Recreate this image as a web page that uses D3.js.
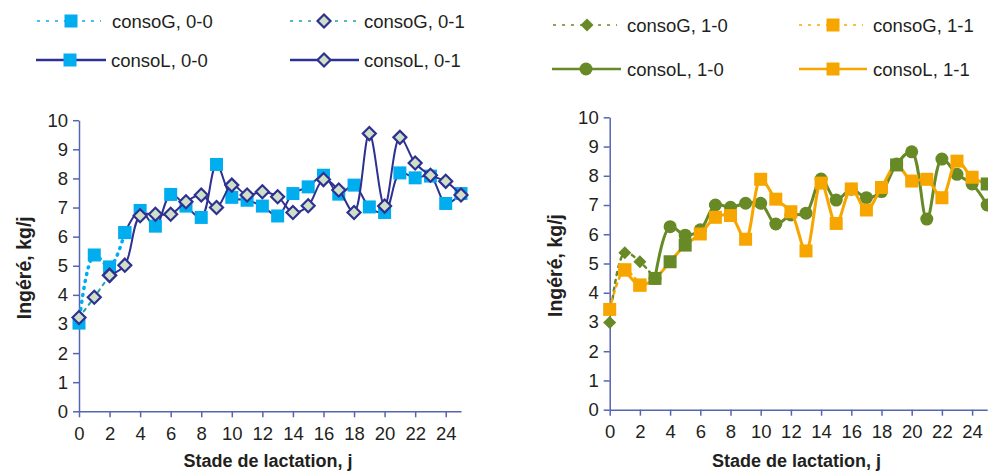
<!DOCTYPE html>
<html>
<head>
<meta charset="utf-8">
<script src="https://cdn.jsdelivr.net/npm/d3@7"></script>
<style>
  body { margin: 0; background: white; }
  text { font-family: "Liberation Sans", Arial, sans-serif; fill: #231f20; }
</style>
</head>
<body>
<script>
// x = day of lactation, y = intake (kg/j)
const xTicks = d3.range(0, 25, 2)
const yTicks = d3.range(0, 11)

// left panel
const consoG00 = [3.03, 5.37, 4.96, 6.14]            // days 0..3
const consoG01 = [3.22, 3.92, 4.67]                  // days 0..2
const consoL00 = [6.14, 6.9, 6.36, 7.45, 7.05, 6.66, 8.48, 7.35, 7.25, 7.05, 6.71, 7.48,
                  7.71, 8.11, 7.46, 7.77, 7.02, 6.83, 8.19, 8.02, 8.08, 7.14, 7.48]   // days 3..25
const consoL01 = [4.67, 5.02, 6.72, 6.77, 6.77, 7.2, 7.43, 7.0, 7.77, 7.43, 7.54, 7.37,
                  6.83, 7.06, 7.96, 7.6, 6.83, 9.54, 7.05, 9.41, 8.53, 8.11, 7.9, 7.43] // days 2..25

// right panel
const consoG10 = [2.98, 5.37, 5.06, 4.49]            // days 0..3
const consoG11 = [3.43, 4.78, 4.26]                  // days 0..2
const consoL10 = [4.49, 6.26, 5.97, 6.15, 7.0, 6.92, 7.06, 7.06, 6.35, 6.66, 6.72, 7.89,
                  7.17, 7.54, 7.25, 7.46, 8.4, 8.82, 6.52, 8.57, 8.05, 7.72, 7.0]     // days 3..25
const consoL11 = [4.78, 4.26, 4.49, 5.06, 5.63, 6.01, 6.58, 6.64, 5.83, 7.88, 7.2, 6.77,
                  5.43, 7.75, 6.37, 7.55, 6.83, 7.6, 8.37, 7.82, 7.88, 7.25, 8.5, 7.95, 7.72] // days 1..25
const greenDays11 = [3, 4, 5, 19, 25]   // points of consoL 1-1 drawn with green fill

const pts = (start, vals) => vals.map((v, i) => [start + i, v])

const navy = "#2e3192"
const cyan = "#00aeef"
const teal = "#1fa3a8"
const dfill = "#cfe0c6"
const green = "#678a26"
const orange = "#f7a600"
const axisCol = "#5565b0"

const width = 988
const height = 472

const svg = d3.select("body").append("svg")
    .attr("width", width)
    .attr("height", height)

const drawMarker = (g, shape, x, y, fill, stroke) => {
    if (shape === "square") {
        g.append("rect").attr("x", x - 6.5).attr("y", y - 6.5).attr("width", 13).attr("height", 13)
            .attr("fill", fill)
    } else if (shape === "diamond") {
        g.append("path").attr("d", `M${x},${y - 6.5}L${x + 6.5},${y}L${x},${y + 6.5}L${x - 6.5},${y}Z`)
            .attr("fill", fill).attr("stroke", stroke).attr("stroke-width", stroke ? 2.2 : 0)
    } else if (shape === "circle") {
        g.append("circle").attr("cx", x).attr("cy", y).attr("r", 6.5).attr("fill", fill)
    }
}

const drawPanel = (p) => {
    const x = d3.scaleLinear().domain([0, 25]).range([p.x0, p.x1])
    const y = d3.scaleLinear().domain([0, 10]).range([p.y0, p.y1])
    const g = svg.append("g")

    // axes
    const yAxis = g.append("g").attr("transform", `translate(${p.x0},0)`)
        .call(d3.axisLeft(y).tickValues(yTicks).tickSize(6).tickPadding(5).tickSizeOuter(0))
    const xAxis = g.append("g").attr("transform", `translate(0,${p.y0})`)
        .call(d3.axisBottom(x).tickValues(xTicks).tickSize(6).tickPadding(5).tickSizeOuter(0))
    for (const a of [xAxis, yAxis]) {
        a.selectAll("path, line").attr("stroke", axisCol).attr("stroke-width", 1.5)
        a.selectAll("text").style("font-size", "18.5px").style("font-family", "Liberation Sans, Arial, sans-serif")
            .attr("fill", "#231f20")
    }
    xAxis.selectAll("text").attr("dy", "0.95em")

    g.append("text")
        .attr("x", (p.x0 + p.x1) / 2 - 2).attr("y", 467)
        .attr("text-anchor", "middle")
        .style("font-size", "18px").style("font-weight", "bold")
        .text("Stade de lactation, j")
    g.append("text")
        .attr("transform", `translate(${p.x0 - 48},${(p.y0 + p.y1) / 2 + 2}) rotate(-90)`)
        .attr("text-anchor", "middle")
        .style("font-size", "19.5px").style("font-weight", "bold")
        .text("Ingéré, kg/j")

    const line = d3.line()
        .x(d => x(d[0])).y(d => y(d[1]))
        .curve(d3.curveCatmullRom.alpha(0.5))

    p.series.forEach(s => {
        g.append("path")
            .attr("d", line(s.data))
            .attr("fill", "none")
            .attr("stroke", s.line)
            .attr("stroke-width", s.width)
            .attr("stroke-linecap", s.dash ? "round" : "butt")
            .attr("stroke-dasharray", s.dash || null)
        s.data.forEach(d => {
            const f = s.fillAt ? s.fillAt(d) : s.fill
            drawMarker(g, s.shape, x(d[0]), y(d[1]), f, s.stroke)
        })
    })

    // legend
    p.legend.forEach(l => {
        const lg = svg.append("g")
        lg.append("line")
            .attr("x1", l.x).attr("x2", l.x + l.len).attr("y1", l.y).attr("y2", l.y)
            .attr("stroke", l.s.line).attr("stroke-width", l.s.dash ? 1.6 : 2.5)
            .attr("stroke-dasharray", l.s.dash ? "3,6" : null)
        drawMarker(lg, l.s.shape, l.x + 34, l.y, l.s.fill, l.s.stroke)
        lg.append("text")
            .attr("x", l.tx).attr("y", l.y + 6.5)
            .style("font-size", "18.5px")
            .text(l.label)
    })
}

const sG00 = { data: pts(0, consoG00), line: cyan, width: 3.5, dash: "1,6", shape: "square", fill: cyan }
const sG01 = { data: pts(0, consoG01), line: teal, width: 2, dash: "3,5", shape: "diamond", fill: dfill, stroke: navy }
const sL00 = { data: pts(3, consoL00), line: navy, width: 2, shape: "square", fill: cyan }
const sL01 = { data: pts(2, consoL01), line: navy, width: 2, shape: "diamond", fill: dfill, stroke: navy }

const sG10 = { data: pts(0, consoG10), line: green, width: 2.5, dash: "3,5", shape: "diamond", fill: green }
const sG11 = { data: pts(0, consoG11), line: orange, width: 2.5, dash: "3,5", shape: "square", fill: orange }
const sL10 = { data: pts(3, consoL10), line: green, width: 3, shape: "circle", fill: green }
const sL11 = { data: pts(1, consoL11), line: orange, width: 3, shape: "square", fill: orange,
               fillAt: d => greenDays11.includes(d[0]) ? green : orange }

drawPanel({
    x0: 79, x1: 461, y0: 411.3, y1: 120.2,
    series: [sG00, sG01, sL00, sL01],
    legend: [
        { s: sG00, x: 37, len: 64, y: 21, tx: 112, label: "consoG, 0-0" },
        { s: sL00, x: 36, len: 70, y: 60, tx: 111, label: "consoL, 0-0" },
        { s: sG01, x: 290, len: 66, y: 21, tx: 364, label: "consoG, 0-1" },
        { s: sL01, x: 290, len: 69, y: 60, tx: 364, label: "consoL, 0-1" }
    ]
})

drawPanel({
    x0: 609.7, x1: 987.2, y0: 409.7, y1: 117.3,
    series: [sG10, sG11, sL10, sL11],
    legend: [
        { s: sG10, x: 553, len: 64, y: 25, tx: 627, label: "consoG, 1-0" },
        { s: sL10, x: 552, len: 69, y: 69, tx: 627, label: "consoL, 1-0" },
        { s: sG11, x: 799, len: 64, y: 25, tx: 873, label: "consoG, 1-1" },
        { s: sL11, x: 799, len: 68, y: 69, tx: 873, label: "consoL, 1-1" }
    ]
})
</script>
</body>
</html>
